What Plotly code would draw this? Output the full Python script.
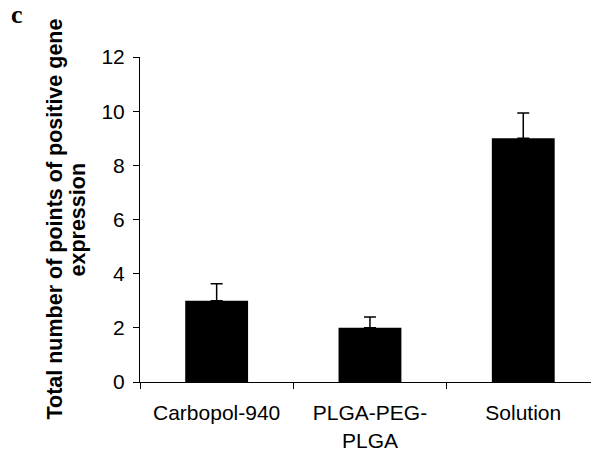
import plotly.graph_objects as go

categories = ["Carbopol-940", "PLGA-PEG-<br>PLGA", "Solution"]
values = [3.0, 2.0, 9.0]
errors_up = [0.63, 0.40, 0.93]
errors_down = [0, 0, 0]
y_ticks = [0, 2, 4, 6, 8, 10, 12]
title_lines = ["Total number of points of positive gene", "expression"]

FONT = "Liberation Sans, Arial, sans-serif"
# page body has an 8px margin, so the figure is 8px smaller than the window
L, T, B = 132, 49, 67
W, H = 591, 441
PW = W - L
PH = H - T - B

fig = go.Figure()
fig.add_trace(go.Bar(
    x=categories,
    y=values,
    width=0.41,
    marker=dict(color="black", line=dict(color="black", width=0)),
    error_y=dict(type="data", symmetric=False, array=errors_up, arrayminus=errors_down,
                 color="black", thickness=1.5, width=6),
))

annotations = []
for line, xpx in zip(title_lines, [46, 69]):
    annotations.append(dict(
        text="<b>" + line + "</b>",
        xref="paper", yref="paper", x=(xpx - L) / PW, y=0.5,
        xanchor="center", yanchor="middle", textangle=-90, showarrow=False,
        font=dict(family=FONT, size=21.5, color="black")))
annotations.append(dict(
    text="<b>c</b>", xref="paper", yref="paper",
    x=(8.5 - L) / PW, y=1 + (T - 7) / PH,
    xanchor="center", yanchor="middle", showarrow=False,
    font=dict(family="Liberation Serif, Times New Roman, serif", size=26, color="black")))

fig.update_layout(
    width=W, height=H,
    margin=dict(l=L, r=0, t=T, b=B, autoexpand=False),
    plot_bgcolor="white", paper_bgcolor="white",
    showlegend=False,
    font=dict(family=FONT, size=21, color="black"),
    xaxis=dict(
        type="category",
        range=[-0.5, 2.494],
        showline=True, linecolor="black", linewidth=1,
        ticks="outside", tickson="boundaries", ticklen=6, tickcolor="black", tickwidth=1,
        showgrid=False, zeroline=False,
        tickfont=dict(family=FONT, size=21, color="black"),
        ticklabelstandoff=12,
    ),
    yaxis=dict(
        range=[0, 12],
        tickvals=y_ticks,
        showline=True, linecolor="black", linewidth=1,
        ticks="outside", ticklen=6, tickcolor="black", tickwidth=1,
        showgrid=False, zeroline=False,
        tickfont=dict(family=FONT, size=21, color="black"),
        ticklabelstandoff=4,
    ),
    annotations=annotations,
)

fig.write_html("out.html")
